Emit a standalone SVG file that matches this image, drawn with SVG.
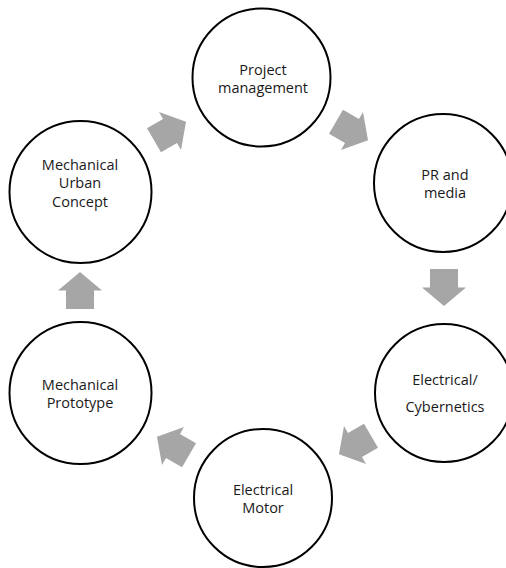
<svg xmlns="http://www.w3.org/2000/svg" xmlns:xlink="http://www.w3.org/1999/xlink" width="506" height="568" viewBox="0 0 506 568">
<style>
.node circle{fill:#fff;stroke:#000;stroke-width:2}
.node text{font-family:"Open Sans","Liberation Sans",sans-serif;font-size:14.5px;fill:#1a1a1a;text-anchor:middle}
.arrow{fill:#A6A6A6}
</style>
<defs>
<polygon id="arr" class="arrow" points="-18.5,-14 0,-14 0,-22 18.5,0 0,22 0,14 -18.5,14"/>
</defs>
<rect width="506" height="568" fill="#fff"/>
<g id="connectors">
<use xlink:href="#arr" transform="translate(170,131) rotate(-30)"/>
<use xlink:href="#arr" transform="translate(352,131) rotate(30)"/>
<use xlink:href="#arr" transform="translate(444,287.5) rotate(90)"/>
<use xlink:href="#arr" transform="translate(355,445) rotate(150)"/>
<use xlink:href="#arr" transform="translate(173,446) rotate(210)"/>
<use xlink:href="#arr" transform="translate(80,290.5) rotate(270)"/>
</g>
<g id="project" class="node">
<circle cx="261.5" cy="77.5" r="69"/>
<text x="263" y="75">Project</text>
<text x="263" y="93">management</text>
</g>
<g id="pr" class="node">
<circle cx="443" cy="183" r="69"/>
<text x="445" y="180">PR and</text>
<text x="445" y="198">media</text>
</g>
<g id="cyber" class="node">
<circle cx="444" cy="393" r="69"/>
<text x="445" y="385">Electrical/</text>
<text x="445" y="412">Cybernetics</text>
</g>
<g id="motor" class="node">
<circle cx="263" cy="498" r="69"/>
<text x="263" y="495">Electrical</text>
<text x="263" y="513">Motor</text>
</g>
<g id="prototype" class="node">
<circle cx="80.5" cy="393" r="71"/>
<text x="80" y="390">Mechanical</text>
<text x="80" y="408">Prototype</text>
</g>
<g id="urban" class="node">
<circle cx="80.5" cy="192" r="71"/>
<text x="80" y="170">Mechanical</text>
<text x="80" y="188">Urban</text>
<text x="80" y="207">Concept</text>
</g>
</svg>
